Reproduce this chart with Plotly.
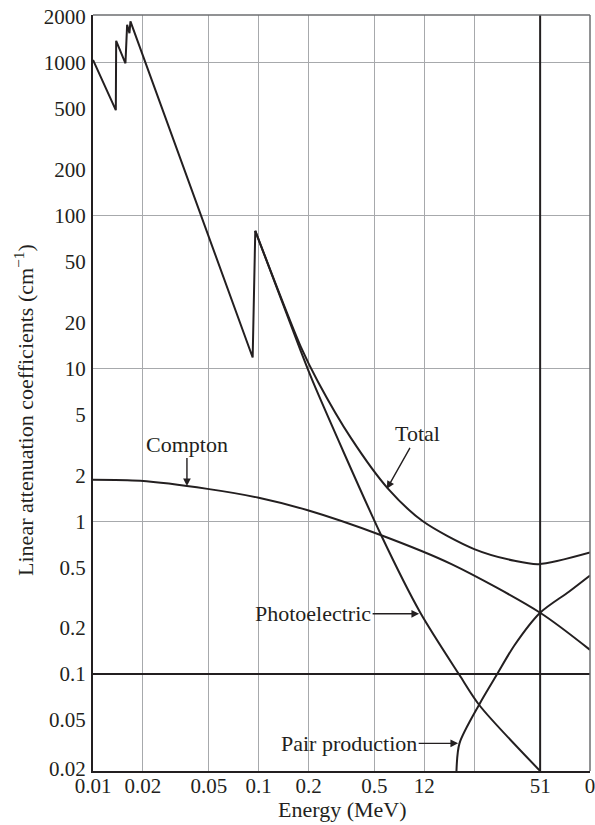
import plotly.graph_objects as go
import math

# ---------------- data ----------------
# Total attenuation, low-energy part with L-edges and K-edge (linear segments)
total_low_E = [0.01, 0.01373, 0.0138, 0.0157, 0.01607, 0.0166, 0.01683, 0.092, 0.0954]
total_low_mu = [1047, 491, 1396, 995, 1778, 1568, 1870, 11.8, 79.7]

# Total attenuation above the K-edge (smooth)
total_high_E = [0.0954, 0.18, 0.228, 0.361, 0.605, 0.98, 2.0, 3.5, 4.9, 10.0]
total_high_mu = [79.7, 13.8, 8.2, 3.5, 1.63, 1.0, 0.658, 0.551, 0.524, 0.625]

# Photoelectric (above K-edge)
photo_E = [0.0954, 0.18, 0.2125, 0.549, 0.946, 1.63, 2.15, 5.0]
photo_mu = [79.7, 12.9, 8.2, 0.81, 0.252, 0.0985, 0.0625, 0.0232]

# Compton
compton_E = [0.01, 0.0193, 0.0491, 0.0986, 0.198, 0.549, 1.458, 5.0, 10.0]
compton_mu = [1.87, 1.84, 1.63, 1.43, 1.18, 0.81, 0.524, 0.252, 0.144]

# Pair production
pair_E = [1.563, 1.63, 2.15, 2.73, 3.51, 5.0, 7.46, 10.0]
pair_mu = [0.0232, 0.0352, 0.0635, 0.0985, 0.155, 0.252, 0.346, 0.442]

# Axis ticks
x_tick_vals = [0.01, 0.02, 0.05, 0.1, 0.2, 0.5, 1, 2, 5, 10]
x_tick_text = ["0.01", "0.02", "0.05", "0.1", "0.2", "0.5", "12", " ", "51", "0"]
y_tick_vals = [2000, 1000, 500, 200, 100, 50, 20, 10, 5, 2, 1, 0.5, 0.2, 0.1, 0.05, 0.024]
y_tick_text = ["2000", "1000", "500", "200", "100", "50", "20", "10", "5", "2", "1",
               "0.5", "0.2", "0.1", "0.05", "0.02"]
y_grid_vals = [1000, 100, 10, 1]

x_range = [0.01, 10]
y_range = [0.0232, 2060]

# Reference lines
ref_x = 5.0
ref_y = 0.1

# ---------------- styling ----------------
INK = "#231f20"
GRID = "#a7a9ac"
FONT = "Liberation Serif"
FS = 21
AFS = 22

fig = go.Figure()

smooth = dict(color=INK, width=2, shape="spline", smoothing=0.8)
fig.add_trace(go.Scatter(x=total_low_E, y=total_low_mu, mode="lines",
                         line=dict(color=INK, width=2), showlegend=False, hoverinfo="skip"))
fig.add_trace(go.Scatter(x=total_high_E, y=total_high_mu, mode="lines", line=smooth,
                         showlegend=False, hoverinfo="skip"))
fig.add_trace(go.Scatter(x=photo_E, y=photo_mu, mode="lines", line=smooth,
                         showlegend=False, hoverinfo="skip"))
fig.add_trace(go.Scatter(x=compton_E, y=compton_mu, mode="lines", line=smooth,
                         showlegend=False, hoverinfo="skip"))
fig.add_trace(go.Scatter(x=pair_E, y=pair_mu, mode="lines", line=smooth,
                         showlegend=False, hoverinfo="skip"))
# empty trace binding the grid-only overlay axis
fig.add_trace(go.Scatter(x=[], y=[], yaxis="y2", showlegend=False, hoverinfo="skip"))

# reference lines
fig.add_shape(type="line", xref="x", yref="paper", x0=ref_x, x1=ref_x, y0=0, y1=1,
              line=dict(color=INK, width=2))
fig.add_shape(type="line", xref="paper", yref="y", x0=0, x1=1, y0=ref_y, y1=ref_y,
              line=dict(color=INK, width=2))
# top and right frame
fig.add_shape(type="line", xref="paper", yref="paper", x0=0, x1=1, y0=1, y1=1,
              line=dict(color="#6d6e71", width=1.5))
fig.add_shape(type="line", xref="paper", yref="paper", x0=1, x1=1, y0=0, y1=1,
              line=dict(color="#6d6e71", width=1.5))

tickfont = dict(family=FONT, size=FS, color=INK)
lg = [math.log10(v) for v in x_range]
lgy = [math.log10(v) for v in y_range]

fig.update_layout(
    width=595, height=825,
    margin=dict(l=93, r=5, t=15, b=54),
    paper_bgcolor="white", plot_bgcolor="white",
    font=dict(family=FONT, size=FS, color=INK),
    xaxis=dict(type="log", range=lg, tickmode="array", tickvals=x_tick_vals,
               ticktext=x_tick_text, showgrid=True, gridcolor=GRID, gridwidth=1.3,
               showline=True, linecolor=INK, linewidth=2, ticks="", tickfont=tickfont,
               zeroline=False, ticklabelstandoff=-5, automargin=False,
               ticklabeloverflow="allow"),
    yaxis=dict(type="log", range=lgy, tickmode="array", tickvals=y_tick_vals,
               ticktext=y_tick_text, showgrid=False, showline=True, linecolor=INK,
               linewidth=2, ticks="", tickfont=tickfont, zeroline=False,
               ticklabelstandoff=1, automargin=False, ticklabeloverflow="allow"),
    yaxis2=dict(type="log", range=lgy, overlaying="y", tickmode="array",
                tickvals=y_grid_vals, showgrid=True, gridcolor=GRID, gridwidth=1.3,
                showticklabels=False, showline=False, ticks="", zeroline=False,
                automargin=False),
)

ann_font = dict(family=FONT, size=AFS, color=INK)
arrow = dict(showarrow=True, arrowhead=2, arrowsize=1.1, arrowwidth=1.4, arrowcolor=INK,
             font=ann_font, xref="x", yref="y")
fig.add_annotation(x=math.log10(0.0369), y=math.log10(1.70), text="Compton", ax=0, ay=-42, **arrow)
fig.add_annotation(x=math.log10(0.594), y=math.log10(1.63), text="Total", ax=31, ay=-55, **arrow)
fig.add_annotation(x=math.log10(0.93), y=math.log10(0.248), text="Photoelectric", ax=-106, ay=0, **arrow)
fig.add_annotation(x=math.log10(1.60), y=math.log10(0.0352), text="Pair production", ax=-109, ay=0, **arrow)

# axis titles
fig.add_annotation(text="Linear attenuation coefficients (cm<sup>−1</sup>)", textangle=-90,
                   xref="paper", yref="paper", x=-0.139, y=0.4775, showarrow=False,
                   xanchor="center", yanchor="middle", font=ann_font)
fig.add_annotation(text="Energy (MeV)", xref="paper", yref="paper", x=0.503, y=-0.051,
                   showarrow=False, xanchor="center", yanchor="middle", font=ann_font)

fig.write_html("out.html", config={"displayModeBar": False},
               post_script="document.body.style.margin='0';")
